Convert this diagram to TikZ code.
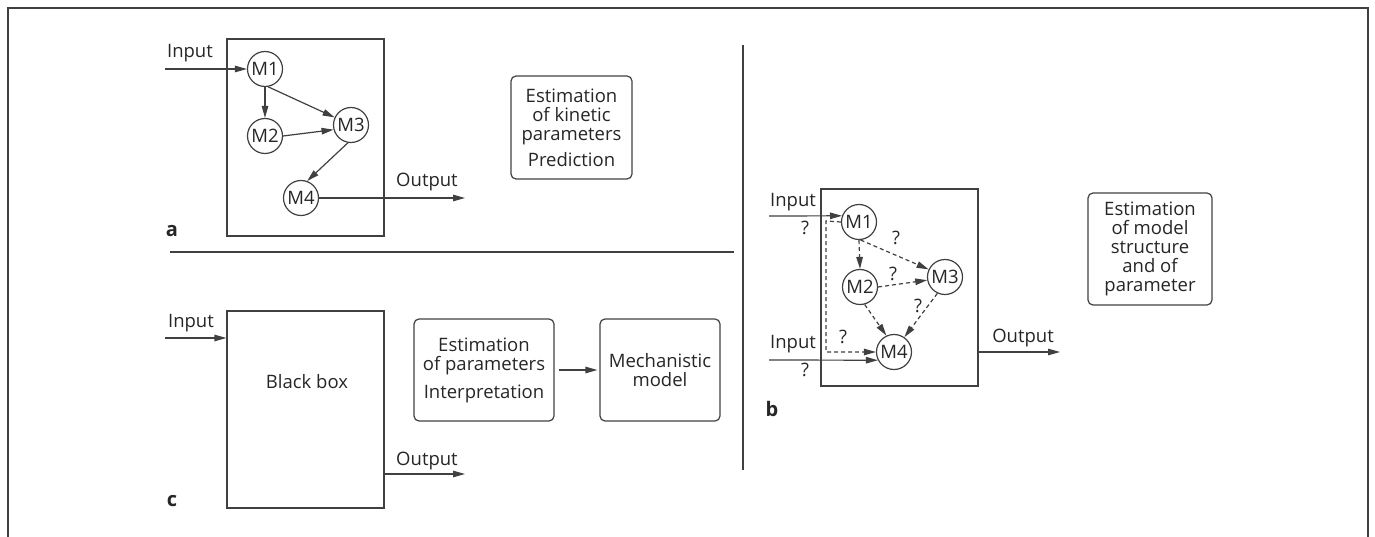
\documentclass[tikz,border=0pt]{standalone}
\usepackage{fontspec}
\setmainfont{Open Sans}
\usetikzlibrary{arrows.meta,calc}
\definecolor{ink}{HTML}{262626}
\definecolor{rule}{HTML}{404040}
\tikzset{
  every node/.style={text=ink,font=\fontsize{18.5}{19}\selectfont},
  ln/.style={draw=rule,line width=1.2pt},
  arr/.style={ln,-{Triangle[length=12pt,width=6.5pt]}},
  darr/.style={arr,dash pattern=on 4pt off 3pt},
  met/.style={circle,ln,minimum size=35pt,inner sep=0pt,font=\fontsize{18.5}{18}\selectfont},
  frame/.style={ln,rectangle},
  note/.style={ln,rounded corners=5pt,align=center,inner sep=0pt},
  tag/.style={font=\fontsize{20}{20}\selectfont\bfseries},
  lbl/.style={inner sep=1pt}
}
\begin{document}
\begin{tikzpicture}[x=1pt,y=-1pt]
\useasboundingbox (0,0) rectangle (1375,537);
% outer frame (open at the bottom) and panel dividers
\draw[draw=rule,line width=1.8pt] (8,537) -- (8,8) -- (1368,8) -- (1368,537);
\draw[ln,line width=1.4pt] (743,45) -- (743,470);
\draw[ln,line width=1.4pt] (170,252) -- (734,252);

% ---------- panel a: known structure ----------
\node[frame,minimum width=157pt,minimum height=197pt] (boxA) at (305.5,137.5) {};
\node[met] (aM1) at (265,69) {M1};
\node[met] (aM2) at (265,136) {M2};
\node[met] (aM3) at (351,125) {M3};
\node[met] (aM4) at (301,198) {M4};
\coordinate (aIn) at (165,69);
\coordinate (aOut) at (465,198);
\node[lbl] (aInL) at (190,53) {Input};
\node[lbl] (aOutL) at (427,182) {Output};
\draw[arr] (aIn) -- (aM1.west);
\draw[arr] (aM1.south) -- (aM2.north);
\draw[arr] (aM1.-80) -- (aM3.155);
\draw[arr] (aM2.east) -- (aM3.195);
\draw[arr] (aM3.-100) -- (aM4.70);
\draw[arr] (aM4.east) -- (aOut);
\node[tag] (tagA) at (172,231) {a};
\node[note,minimum width=121pt,minimum height=103pt] (estA) at (571.5,127.5)
  {Estimation\\of kinetic\\parameters\\[7pt]Prediction};

% ---------- panel c: black box ----------
\node[frame,minimum width=157pt,minimum height=197pt] (boxC) at (305.5,409.5) {};
\node (bbL) at (307,382) {Black box};
\coordinate (cIn) at (165,338);
\coordinate (cOut) at (465,474);
\node[lbl] (cInL) at (191,323) {Input};
\node[lbl] (cOutL) at (427,461) {Output};
\draw[arr] (cIn) -- (cIn -| boxC.west);
\draw[arr] (cOut -| boxC.east) -- (cOut);
\node[tag] (tagC) at (172,501) {c};
\node[note,minimum width=140pt,minimum height=102pt] (estC) at (484,370)
  {Estimation\\of parameters\\[9pt]Interpretation};
\node[note,minimum width=120pt,minimum height=102pt] (mech) at (660,370)
  {Mechanistic\\model};
\draw[arr,shorten <=4pt,shorten >=2pt] (estC.east) -- (mech.west);

% ---------- panel b: unknown structure ----------
\node[frame,minimum width=157pt,minimum height=197pt] (boxB) at (899.5,287.5) {};
\node[met] (bM1) at (859,222) {M1};
\node[met] (bM2) at (860,287) {M2};
\node[met] (bM3) at (945,277) {M3};
\node[met] (bM4) at (894,352) {M4};
\coordinate (bIn1) at (769,216);
\coordinate (bIn2) at (769,360);
\coordinate (bOut) at (1060,352);
\coordinate (bBend) at (826,221);
\node[lbl] (bIn1L) at (793,202) {Input};
\node[lbl] (bIn2L) at (793,344) {Input};
\node[lbl] (bQ1) at (805,228) {?};
\node[lbl] (bQ2) at (805,370) {?};
\node[lbl] (bOutL) at (1023,338) {Output};
\draw[arr] (bIn1) -- (bM1.160);
\draw[arr] (bIn2) -- (bM4.207);
\draw[arr] (bOut -| boxB.east) -- (bOut);
\draw[darr] (bM1.west) -- (bBend) |- (bM4.west);
\draw[darr] (bM1.south) -- (bM2.north);
\draw[darr] (bM1.-85) -- (bM3.155);
\draw[darr] (bM2.east) -- (bM3.190);
\draw[darr] (bM2.-75) -- (bM4.115);
\draw[darr] (bM3.-115) -- (bM4.55);
\node[lbl] (bQ3) at (896,238) {?};
\node[lbl] (bQ4) at (893,274) {?};
\node[lbl] (bQ5) at (918,306) {?};
\node[lbl] (bQ6) at (843,337) {?};
\node[tag] (tagB) at (772,409) {b};
\node[note,minimum width=124pt,minimum height=112pt] (estB) at (1150,249)
  {Estimation\\of model\\structure\\and of\\parameter};
\end{tikzpicture}
\end{document}
